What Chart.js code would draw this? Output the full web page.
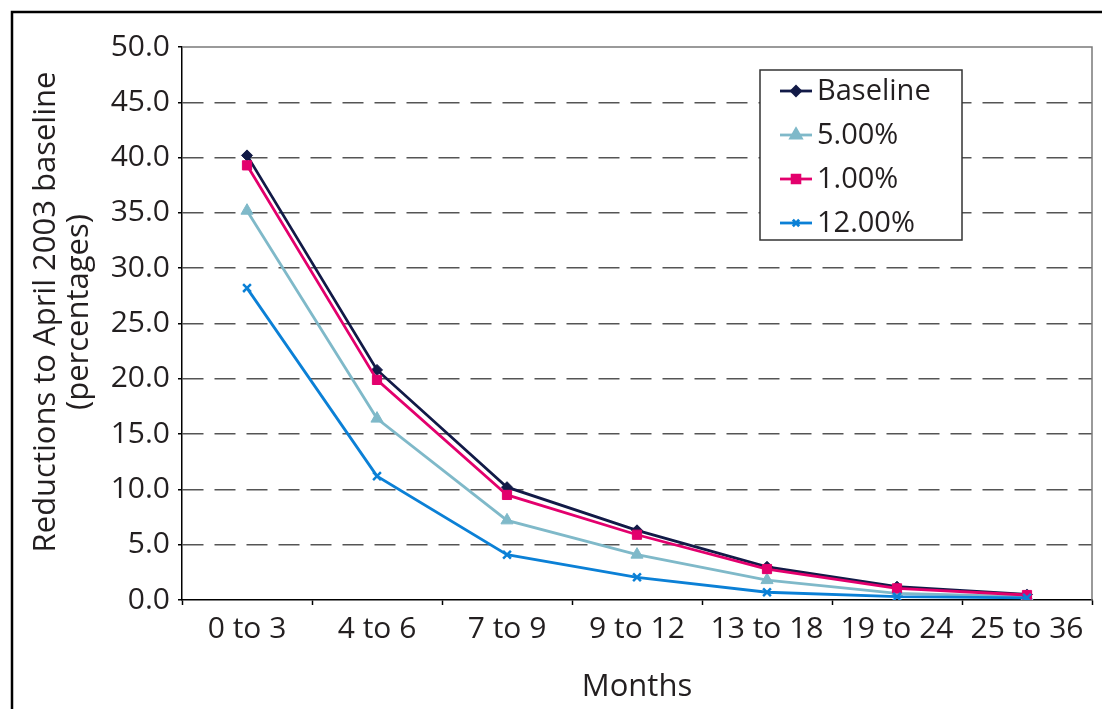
<!DOCTYPE html>
<html>
<head>
<meta charset="utf-8">
<script src="https://cdn.jsdelivr.net/npm/chart.js@4/dist/chart.umd.min.js"></script>
<style>
  html, body { margin: 0; padding: 0; background: #fff; }
  #wrap { width: 1102px; height: 709px; position: relative; }
</style>
</head>
<body>
<div id="wrap"><canvas id="c" width="1102" height="709"></canvas></div>
<script>
const categories = ['0 to 3', '4 to 6', '7 to 9', '9 to 12', '13 to 18', '19 to 24', '25 to 36'];
const seriesNames = ['Baseline', '5.00%', '1.00%', '12.00%'];
const baselineValues = [40.2, 20.8, 10.2, 6.3, 3.0, 1.2, 0.5];
const fivePctValues = [35.2, 16.4, 7.2, 4.1, 1.8, 0.6, 0.3];
const onePctValues = [39.3, 19.9, 9.5, 5.9, 2.8, 1.05, 0.45];
const twelvePctValues = [28.2, 11.2, 4.1, 2.05, 0.7, 0.3, 0.2];
const yTickValues = [0, 5, 10, 15, 20, 25, 30, 35, 40, 45, 50];
const yTitle = ['Reductions to April 2003 baseline', '(percentages)'];
const xTitle = 'Months';

const colors = ['#121a47', '#7fb9c9', '#e3006d', '#0b80d6'];
const pointStyles = ['rectRot', 'triangle', 'rect', 'crossRot'];
const pointRadii = [5.5, 7, 6.5, 5.5];
const seriesValues = [baselineValues, fivePctValues, onePctValues, twelvePctValues];
const FONT = '"Open Sans", "Noto Sans", sans-serif';
const TEXT = '#231f20';

const datasets = seriesNames.map((name, i) => ({
  label: name,
  data: seriesValues[i],
  borderColor: colors[i],
  backgroundColor: colors[i],
  borderWidth: 2.8,
  tension: 0,
  pointStyle: pointStyles[i],
  pointRadius: pointRadii[i],
  pointHoverRadius: pointRadii[i],
  pointBorderWidth: pointStyles[i] === 'crossRot' ? 2.5 : 1,
  pointBackgroundColor: colors[i],
  pointBorderColor: colors[i],
  order: 3 - i
}));

const framePlugin = {
  id: 'frame',
  beforeDraw(chart) {
    const ctx = chart.ctx;
    ctx.save();
    ctx.fillStyle = '#fff';
    ctx.fillRect(0, 0, chart.width, chart.height);
    ctx.strokeStyle = '#000';
    ctx.lineWidth = 2.5;
    ctx.beginPath();
    ctx.moveTo(12, chart.height + 5);
    ctx.lineTo(12, 12);
    ctx.lineTo(chart.width + 5, 12);
    ctx.stroke();
    ctx.restore();
  },
  beforeDatasetsDraw(chart) {
    const {ctx, chartArea: a} = chart;
    ctx.save();
    ctx.strokeStyle = '#7a7a7a';
    ctx.lineWidth = 1.5;
    ctx.beginPath();
    ctx.moveTo(a.left, a.top);
    ctx.lineTo(a.right, a.top);
    ctx.lineTo(a.right, a.bottom);
    ctx.stroke();
    ctx.restore();
  },
  afterDraw(chart) {
    const ctx = chart.ctx;
    // y-axis title (two lines, rotated)
    ctx.save();
    ctx.translate(46, 312);
    ctx.rotate(-Math.PI / 2);
    ctx.font = '31px ' + FONT;
    ctx.fillStyle = TEXT;
    ctx.textAlign = 'center';
    ctx.textBaseline = 'middle';
    yTitle.forEach((line, i) => ctx.fillText(line, 0, i * 33));
    ctx.restore();

    // legend
    const box = {x: 760, y: 70, w: 202, h: 170};
    ctx.save();
    ctx.fillStyle = '#fff';
    ctx.fillRect(box.x, box.y, box.w, box.h);
    ctx.strokeStyle = '#333';
    ctx.lineWidth = 1.5;
    ctx.strokeRect(box.x, box.y, box.w, box.h);
    ctx.font = '29px ' + FONT;
    ctx.textBaseline = 'middle';
    ctx.textAlign = 'left';
    seriesNames.forEach((name, i) => {
      const y = 91 + i * 44;
      ctx.strokeStyle = colors[i];
      ctx.lineWidth = 2.8;
      ctx.beginPath();
      ctx.moveTo(780, y);
      ctx.lineTo(812, y);
      ctx.stroke();
      ctx.fillStyle = colors[i];
      ctx.strokeStyle = colors[i];
      Chart.helpers.drawPoint(ctx, {
        pointStyle: pointStyles[i],
        radius: pointRadii[i] - 1,
        borderWidth: pointStyles[i] === 'crossRot' ? 2.5 : 1,
        rotation: 0
      }, 796, y);
      ctx.fillStyle = TEXT;
      ctx.fillText(name, 817, y + 1);
    });
    ctx.restore();
  }
};

new Chart(document.getElementById('c'), {
  type: 'line',
  data: { labels: categories, datasets },
  plugins: [framePlugin],
  options: {
    responsive: false,
    animation: false,
    devicePixelRatio: 1,
    layout: { padding: { left: 0, right: 10, top: 47, bottom: 0 } },
    plugins: { legend: { display: false }, tooltip: { enabled: false } },
    scales: {
      x: {
        type: 'category',
        offset: true,
        grid: {
          offset: true,
          drawOnChartArea: false,
          drawTicks: true,
          tickLength: 5,
          tickColor: '#000',
          tickWidth: 1.5
        },
        border: { display: true, color: '#000', width: 1.5 },
        ticks: {
          color: TEXT,
          font: { family: FONT, size: 30 },
          padding: 6,
          maxRotation: 0,
          autoSkip: false
        },
        title: {
          display: true,
          text: xTitle,
          color: TEXT,
          font: { family: FONT, size: 31, lineHeight: 1.2 },
          padding: { top: 0, bottom: 3 }
        },
        afterFit(scale) { scale.height = 109; }
      },
      y: {
        min: 0,
        max: 50,
        afterBuildTicks(scale) { scale.ticks = yTickValues.map(v => ({ value: v })); },
        grid: {
          color: (c) => (c.tick && (c.tick.value === 0 || c.tick.value === 50)) ? 'rgba(0,0,0,0)' : '#555',
          lineWidth: 1.5,
          drawTicks: true,
          tickLength: 4,
          tickColor: '#000',
          tickWidth: 1.5,
          tickBorderDash: []
        },
        border: { display: true, color: '#000', width: 1.5, dash: [21, 11] },
        ticks: {
          color: TEXT,
          font: { family: FONT, size: 30 },
          padding: 8,
          callback: (v) => Number(v).toFixed(1)
        },
        title: { display: false },
        afterFit(scale) { scale.width = 182; }
      }
    }
  }
});
</script>
</body>
</html>
